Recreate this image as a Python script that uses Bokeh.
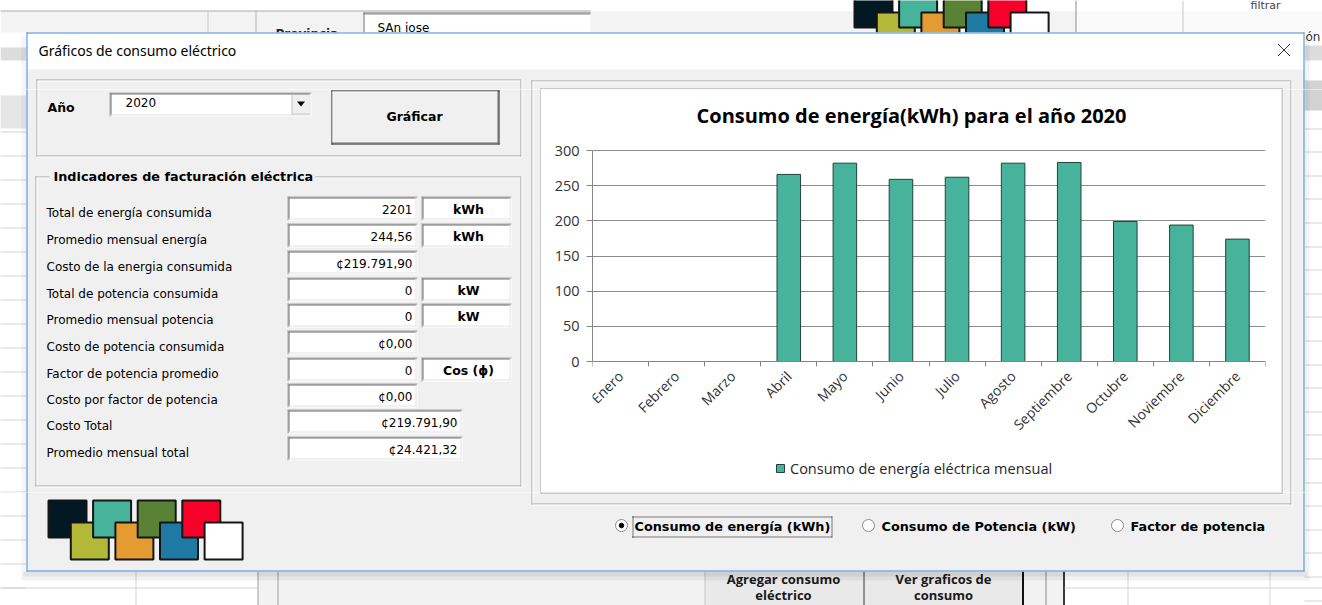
import math
from bokeh.plotting import figure
from bokeh.layouts import column, row
from bokeh.models import Range1d, FixedTicker, Legend, LegendItem, ColumnDataSource
from bokeh.core.properties import value
from bokeh.embed import file_html
from bokeh.resources import INLINE

# ---------------- data ----------------
months = ["Enero", "Febrero", "Marzo", "Abril", "Mayo", "Junio", "Julio",
          "Agosto", "Septiembre", "Octubre", "Noviembre", "Diciembre"]
consumo_kwh = [0, 0, 0, 266, 282, 259, 262, 282, 283, 199, 194, 174]
y_ticks = [0, 50, 100, 150, 200, 250, 300]
chart_title = "Consumo de energía(kWh) para el año 2020"
series_name = "Consumo de energía eléctrica mensual"

dialog_title = "Gráficos de consumo eléctrico"
year_label = "Año"
year_selected = "2020"
button_label = "Gráficar"
indicators_title = "Indicadores de facturación eléctrica"
indicator_labels = ["Total de energía consumida", "Promedio mensual energía",
                    "Costo de la energia consumida", "Total de potencia consumida",
                    "Promedio mensual potencia", "Costo de potencia consumida",
                    "Factor de potencia promedio", "Costo por factor de potencia",
                    "Costo Total", "Promedio mensual total"]
indicator_values = ["2201", "244,56", "¢219.791,90", "0", "0", "¢0,00", "0",
                    "¢0,00", "¢219.791,90", "¢24.421,32"]
indicator_units = ["kWh", "kWh", "", "kW", "kW", "", "Cos (ϕ)", "", "", ""]
radio_labels = ["Consumo de energía (kWh)", "Consumo de Potencia (kW)", "Factor de potencia"]
palette_colors = ["#021823", "#B4B838", "#47B39A", "#E39B32",
                  "#5A8234", "#1F7AA3", "#F7002A", "#FFFFFF"]
sheet_buttons = [["Agregar consumo", "eléctrico"], ["Ver graficos de", "consumo"]]

# ---------------- fonts / colors ----------------
FORM_FONT = "DejaVu Sans"
CHART_FONT = "Open Sans"
BAR_FILL = "#47B39A"
BAR_LINE = "#24403D"
AXIS_GRAY = "#868686"


class Layer:
    def __init__(self):
        self.quads, self.polys, self.segs, self.dashed, self.dots, self.texts = [], [], [], [], [], []

    def quad(self, x0, x1, y0, y1, fill, alpha=1.0, line=None, lw=1):
        self.quads.append(dict(left=x0, right=x1, top=y0, bottom=y1, fill=fill, alpha=alpha,
                               line=line or "#000000", lalpha=1.0 if line else 0.0, lw=lw))

    def poly(self, xs, ys, fill):
        self.polys.append(dict(xs=xs, ys=ys, fill=fill))

    def seg(self, x0, y0, x1, y1, color, w=1):
        self.segs.append(dict(x0=x0, y0=y0, x1=x1, y1=y1, color=color, w=w))

    def hline(self, x0, x1, r, color, w=1):
        self.seg(x0, r + 0.5, x1, r + 0.5, color, w)

    def vline(self, c, y0, y1, color, w=1):
        self.seg(c + 0.5, y0, c + 0.5, y1, color, w)

    def dash(self, x0, y0, x1, y1):
        self.dashed.append(dict(x0=x0, y0=y0, x1=x1, y1=y1))

    def dot(self, x, y, size, fill, line):
        self.dots.append(dict(x=x, y=y, size=size, fill=fill, line=line))

    def text(self, x, y, t, font, size, style="normal", align="left", color="#000000"):
        self.texts.append(dict(x=x, y=y, text=t, font=font, size=size, style=style,
                               align=align, color=color))

    @staticmethod
    def _cds(items):
        keys = items[0].keys()
        return ColumnDataSource({k: [it[k] for it in items] for k in keys})

    def render(self, p, b):
        bx0, bx1, by0, by1 = b

        def hit(a0, a1, c0, c1):
            return min(a0, a1) < bx1 and max(a0, a1) > bx0 and min(c0, c1) < by1 and max(c0, c1) > by0

        q = [it for it in self.quads if hit(it["left"], it["right"], it["top"], it["bottom"])]
        if q:
            p.quad(left="left", right="right", top="top", bottom="bottom", fill_color="fill",
                   fill_alpha="alpha", line_color="line", line_alpha="lalpha", line_width="lw",
                   source=self._cds(q))
        pl = [it for it in self.polys if hit(min(it["xs"]), max(it["xs"]), min(it["ys"]), max(it["ys"]))]
        if pl:
            p.patches(xs="xs", ys="ys", fill_color="fill", line_color=None, source=self._cds(pl))
        s = [it for it in self.segs if hit(it["x0"] - 1, it["x1"] + 1, it["y0"] - 1, it["y1"] + 1)]
        if s:
            p.segment(x0="x0", y0="y0", x1="x1", y1="y1", line_color="color", line_width="w",
                      source=self._cds(s))
        d = [it for it in self.dashed if hit(it["x0"] - 1, it["x1"] + 1, it["y0"] - 1, it["y1"] + 1)]
        if d:
            p.segment(x0="x0", y0="y0", x1="x1", y1="y1", line_color="#000000", line_width=1,
                      line_dash="1 1", source=self._cds(d))
        dt = [it for it in self.dots if bx0 <= it["x"] < bx1 and by0 <= it["y"] < by1]
        if dt:
            p.scatter(x="x", y="y", size="size", fill_color="fill", line_color="line",
                      marker="circle", source=self._cds(dt))
        t = [it for it in self.texts if bx0 <= it["x"] < bx1 and by0 <= it["y"] < by1]
        if t:
            p.text(x="x", y="y", text="text", text_font="font", text_font_size="size",
                   text_font_style="style", text_align="align", text_baseline=value("middle"),
                   text_color="color", source=self._cds(t))


def palette(L, ox, oy):
    for i, c in enumerate(palette_colors):
        x0 = ox + 22.3 * i
        y0 = oy + (0 if i % 2 == 0 else 22)
        L.quad(x0, x0 + 38, y0, y0 + 37, c, line="#151515", lw=2)


def etched(L, x0, y0, x1, y1, gap=None):
    dark, light = "#A0A0A0", "#FFFFFF"
    if gap:
        L.hline(x0, gap[0], y0, dark); L.hline(gap[1], x1, y0, dark)
        L.hline(x0 + 1, gap[0], y0 + 1, light); L.hline(gap[1], x1, y0 + 1, light)
    else:
        L.hline(x0, x1, y0, dark); L.hline(x0 + 1, x1, y0 + 1, light)
    L.hline(x0, x1 + 1, y1, dark); L.hline(x0, x1 + 2, y1 + 1, light)
    L.vline(x0, y0, y1 + 1, dark); L.vline(x0 + 1, y0 + 1, y1, light)
    L.vline(x1, y0, y1 + 1, dark); L.vline(x1 + 1, y0, y1 + 2, light)


def sunken(L, x0, y0, x1, y1):
    L.quad(x0, x1, y0, y1, "#FFFFFF")
    L.hline(x0, x1, y0, "#A0A0A0"); L.hline(x0 + 1, x1 - 1, y0 + 1, "#6D6D6D")
    L.vline(x0, y0, y1, "#A0A0A0"); L.vline(x0 + 1, y0 + 1, y1 - 1, "#6D6D6D")
    L.hline(x0 + 1, x1 - 1, y1 - 2, "#E3E3E3"); L.vline(x1 - 2, y0 + 1, y1 - 1, "#E3E3E3")


# ---------------- background (Excel sheet behind the form) ----------------
BG = Layer()
BG.quad(0, 1322, 0, 605, "#FFFFFF")
BG.quad(0, 1075, 11, 32, "#F3F3F3")
BG.hline(0, 590, 10, "#A8A8A8")
BG.vline(207, 10, 32, "#C8C8C8")
BG.vline(255, 10, 32, "#B4B4B4")
BG.quad(363, 590, 12, 34, "#FFFFFF")
BG.hline(363, 590, 12, "#6E6E6E"); BG.hline(363, 590, 13, "#8E8E8E"); BG.vline(363, 12, 34, "#6E6E6E")
BG.text(377, 27, "SAn jose", FORM_FONT, "12px")
BG.text(275, 33, "Provincia", FORM_FONT, "12px", "bold", color="#1B2540")
BG.vline(1075, 0, 32, "#8A8A8A")
BG.vline(1182, 0, 32, "#C8C8C8")
BG.quad(1075, 1322, 11, 32, "#FAFAFA")
BG.text(1250, 5, "filtrar", FORM_FONT, "11px", color="#444444")
palette(BG, 854, -10)
# right strip
BG.quad(1304, 1322, 45, 60, "#DCDCDC")
BG.quad(1304, 1322, 80, 110, "#D2D2D2")
BG.text(1305, 36, "ón", FORM_FONT, "12px", color="#333333")
for k in range(21):
    BG.hline(1304, 1322, int(128 + 23.6 * k), "#D4D4D4")
# left strip
BG.quad(0, 26, 47, 60, "#DCDCDC")
BG.quad(0, 26, 95, 128, "#E6E6E6")
for k in range(20):
    BG.hline(0, 26, 131 + 24 * k, "#D4D4D4")
# bottom strip
BG.vline(135, 571, 605, "#D4D4D4")
BG.hline(0, 257, 587, "#D4D4D4")
BG.quad(257, 1064, 571, 605, "#F2F2F2")
BG.quad(705, 1022, 571, 605, "#E9E9E9")
BG.vline(257, 571, 605, "#A0A0A0"); BG.vline(277, 571, 605, "#A0A0A0")
BG.vline(704, 571, 605, "#C4C4C4")
BG.vline(863, 571, 605, "#3A3A3A")
BG.vline(1022, 571, 605, "#111111", 2)
BG.vline(1045, 571, 605, "#8A8A8A")
BG.vline(1063, 571, 605, "#3A3A3A", 2)
BG.hline(1064, 1322, 587, "#D4D4D4")
BG.vline(1127, 571, 605, "#D4D4D4"); BG.vline(1269, 571, 605, "#D4D4D4")
for (l1, l2), cx in zip(sheet_buttons, [783, 943]):
    BG.text(cx, 578, l1, CHART_FONT, "13px", "bold", "center", "#1A1A1A")
    BG.text(cx, 594, l2, CHART_FONT, "13px", "bold", "center", "#1A1A1A")

# ---------------- dialog ----------------
D = Layer()
D.quad(21, 1309, 571, 580, "#000000", 0.05)
D.quad(23, 1307, 571, 576, "#000000", 0.06)
D.quad(1304, 1309, 36, 571, "#000000", 0.05)
D.quad(21, 26, 36, 571, "#000000", 0.04)
D.quad(26, 1304, 32, 571, "#F0F0F0")
D.quad(26, 1304, 32, 69, "#FFFFFF")
BLUE = "#3F8EDB"
D.hline(26, 1304, 32, BLUE); D.hline(26, 1304, 570, BLUE)
D.vline(26, 32, 571, BLUE); D.vline(1303, 32, 571, BLUE)
D.text(38, 50, dialog_title, "Noto Sans", "14px")
D.seg(1277.5, 43.5, 1289.5, 55.5, "#333333"); D.seg(1277.5, 55.5, 1289.5, 43.5, "#333333")

# year frame
etched(D, 36, 79, 520, 155)
D.text(47, 107, year_label, FORM_FONT, "12.5px", "bold")
sunken(D, 109, 92, 311, 116)
D.quad(291, 309, 94, 114, "#F0F0F0")
D.hline(291, 309, 113, "#C8C8C8"); D.vline(291, 94, 114, "#C8C8C8")
D.poly([296.5, 304.5, 300.5], [101, 101, 106], "#000000")
D.text(125, 102, year_selected, FORM_FONT, "12px")
# Graficar button
D.quad(331, 499, 90, 144, "#F0F0F0")
D.hline(331, 499, 90, "#1A1A1A"); D.hline(331, 499, 143, "#1A1A1A")
D.vline(331, 90, 144, "#1A1A1A"); D.vline(498, 90, 144, "#1A1A1A")
D.hline(332, 497, 91, "#FFFFFF"); D.vline(332, 91, 142, "#FFFFFF")
D.hline(332, 498, 142, "#6A6A6A"); D.vline(497, 91, 143, "#6A6A6A")
D.text(414, 116, button_label, FORM_FONT, "12.5px", "bold", "center")

# indicators frame
etched(D, 35, 176, 520, 485, gap=(49, 315))
D.text(53, 176, indicators_title, FORM_FONT, "12.8px", "bold")
box_tops = [196, 223, 250, 277, 303, 330, 357, 383, 409, 436]
for i, (lab, val, unit) in enumerate(zip(indicator_labels, indicator_values, indicator_units)):
    t = box_tops[i]
    D.text(46, t + 16, lab, FORM_FONT, "12px")
    wide = i >= 8
    x1 = 462 if wide else 417
    sunken(D, 287, t, x1, t + 24)
    D.text(x1 - 5, t + 13, val, FORM_FONT, "12px", "normal", "right")
    if unit:
        sunken(D, 421, t, 511, t + 24)
        D.text(468, t + 13, unit, FORM_FONT, "12.5px", "bold", "center")

# palette
palette(D, 48, 500)

# chart panel
etched(D, 531, 80, 1290, 503)
D.quad(540, 1282, 88, 493, "#FFFFFF")
D.hline(540, 1282, 88, "#9A9A9A"); D.hline(540, 1282, 492, "#9A9A9A")
D.vline(540, 88, 493, "#9A9A9A"); D.vline(1281, 88, 493, "#9A9A9A")

# radio buttons
for k, (lab, cx) in enumerate(zip(radio_labels, [621, 868, 1117])):
    D.dot(cx, 525, 12, "#FFFFFF", "#8A8A8A")
    if k == 0:
        D.dot(cx, 525, 4.5, "#000000", "#000000")
    D.text(cx + 13, 526, lab, FORM_FONT, "12.8px", "bold")
D.dash(632, 516.5, 832, 516.5); D.dash(632, 536.5, 832, 536.5)
D.dash(632.5, 516, 632.5, 537); D.dash(831.5, 516, 831.5, 537)

LAYERS = [BG, D]


def decor_fig(x0, x1, y0, y1):
    p = figure(width=x1 - x0, height=y1 - y0, x_range=Range1d(x0, x1), y_range=Range1d(y1, y0),
               output_backend="svg", toolbar_location=None, tools="",
               x_axis_type=None, y_axis_type=None, min_border=0)
    p.min_border_left = p.min_border_right = p.min_border_top = p.min_border_bottom = 0
    p.outline_line_color = None
    p.background_fill_color = "#FFFFFF"
    p.border_fill_color = "#FFFFFF"
    try:
        p.frame_align = False
    except Exception:
        pass
    for L in LAYERS:
        L.render(p, (x0, x1, y0, y1))
    return p


# ---------------- the chart ----------------
# chart canvas: x 541..1281, y 89..492 ; plot area (0..300) at x 592..1265, y 150..361
PX_PER_UNIT = 211.0 / (y_ticks[-1] - y_ticks[0])
TOP_BORDER, BOTTOM_BORDER = 48, 8
frame_top_img, frame_bottom_img = 89 + TOP_BORDER, 492 - BOTTOM_BORDER
y_hi = y_ticks[-1] + (150 - frame_top_img) / PX_PER_UNIT
y_lo = y_ticks[0] - (frame_bottom_img - 361) / PX_PER_UNIT

src = ColumnDataSource(dict(x=list(range(len(months))), month=months, kwh=consumo_kwh))
cp = figure(width=740, height=403, x_range=Range1d(-0.5, len(months) - 0.5),
            y_range=Range1d(y_lo, y_hi), output_backend="svg",
            toolbar_location=None, tools="",
            min_border_left=51, min_border_right=16,
            min_border_top=TOP_BORDER, min_border_bottom=BOTTOM_BORDER)
cp.background_fill_color = "#FFFFFF"
cp.border_fill_color = "#FFFFFF"
cp.outline_line_color = None
bars = cp.vbar(x="x", top="kwh", bottom=0, width=0.42, source=src,
               fill_color=BAR_FILL, line_color=BAR_LINE, line_width=1)

xa = cp.xaxis[0]
xa.fixed_location = 0
xa.ticker = FixedTicker(ticks=list(range(len(months))),
                        minor_ticks=[i - 0.5 for i in range(len(months) + 1)])
xa.major_label_overrides = {i: m for i, m in enumerate(months)}
xa.major_tick_line_color = None
xa.minor_tick_line_color = AXIS_GRAY
xa.minor_tick_in = 0
xa.minor_tick_out = 5
xa.axis_line_color = AXIS_GRAY
xa.major_label_orientation = math.pi / 4
xa.major_label_standoff = 6
xa.major_label_text_font = CHART_FONT
xa.major_label_text_font_size = "14px"
xa.major_label_text_color = "#333333"

ya = cp.yaxis[0]
ya.ticker = FixedTicker(ticks=y_ticks)
ya.bounds = (y_ticks[0], y_ticks[-1])
ya.minor_tick_line_color = None
ya.major_tick_in = 0
ya.major_tick_out = 6
ya.major_tick_line_color = AXIS_GRAY
ya.axis_line_color = AXIS_GRAY
ya.major_label_standoff = 7
ya.major_label_text_font = CHART_FONT
ya.major_label_text_font_size = "14.5px"
ya.major_label_text_color = "#333333"

cp.xgrid.grid_line_color = None
cp.ygrid.ticker = FixedTicker(ticks=y_ticks)
cp.ygrid.grid_line_color = "#8C8C8C"

cp.title.text = chart_title
cp.title.align = "left"
cp.title.offset = 104
cp.title.standoff = 18
cp.title.text_font = CHART_FONT
cp.title.text_font_size = "20px"
cp.title.text_font_style = "bold"
cp.title.text_color = "#000000"

legend = Legend(items=[LegendItem(label=series_name, renderers=[bars])],
                location=(183, 484 - 478), orientation="horizontal",
                border_line_color=None, background_fill_alpha=0,
                padding=0, margin=0, spacing=0, glyph_width=10, glyph_height=10,
                label_height=20, label_standoff=5,
                label_text_font=CHART_FONT, label_text_font_size="14.5px",
                label_text_color="#262626")
cp.add_layout(legend)

# ---------------- layout (covers the whole 1322x605 window) ----------------
top_fig = decor_fig(0, 1322, 0, 89)
left_fig = decor_fig(0, 541, 89, 492)
right_fig = decor_fig(1281, 1322, 89, 492)
bottom_fig = decor_fig(0, 1322, 492, 605)

layout = column(top_fig, row(left_fig, cp, right_fig), bottom_fig)
open("out.html", "w").write(file_html(layout, INLINE))
